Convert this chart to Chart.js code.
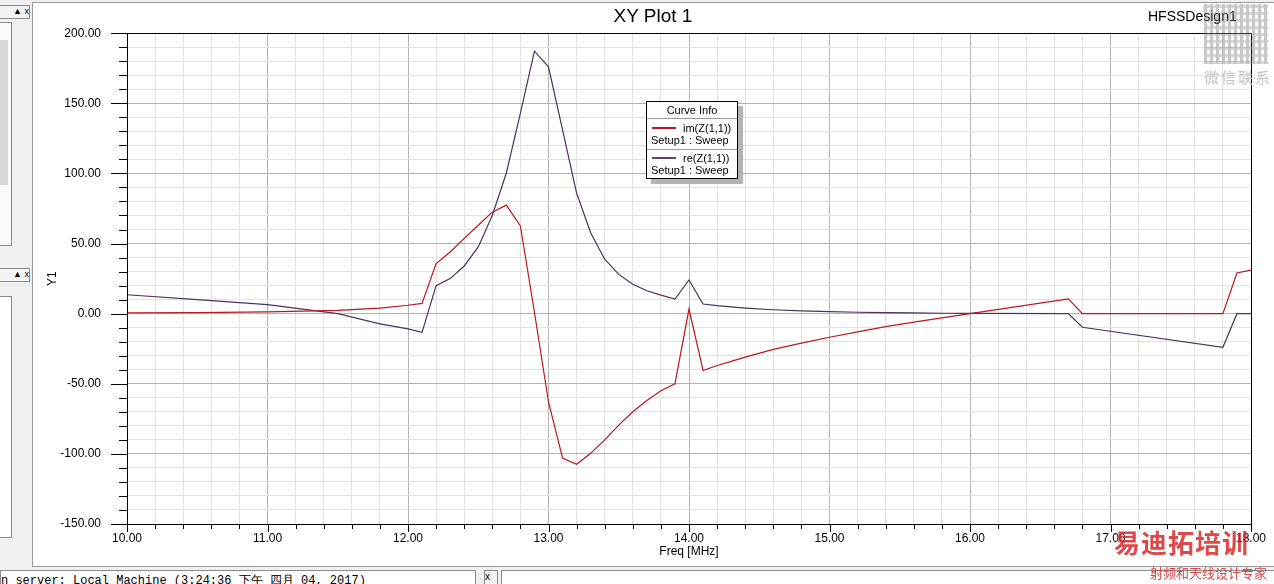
<!DOCTYPE html>
<html>
<head>
<meta charset="utf-8">
<script src="https://cdn.jsdelivr.net/npm/chart.js@4.4.0/dist/chart.umd.min.js"></script>
<style>
  body { margin: 0; width: 1274px; height: 584px; overflow: hidden; position: relative;
         background: #f0f0f0; font-family: Arial, "Liberation Sans", sans-serif; }
  .abs { position: absolute; }
  #win { left: 32px; top: 2px; width: 1242px; height: 563px; background: #fff;
         border-left: 1px solid #9a9a9a; border-top: 1px solid #9a9a9a; border-bottom: 1px solid #9a9a9a; }
  #chart { position: absolute; left: 0; top: 0; }
  #title { left: 553px; top: 5px; width: 200px; text-align: center; font-size: 19px; color: #000; }
  #design { left: 1148px; top: 8px; font-size: 14px; color: #000; }
  .legend { left: 646px; top: 101px; width: 90px; height: 76px; background: #fff;
            border: 1px solid #000; box-shadow: 5px 5px 0 #b4b4b4; font-size: 11px; }
  .legend div { position: absolute; white-space: nowrap; }
  .sep { left: 0; width: 90px; height: 0; border-top: 1px solid #9a9a9a; }
  .swatch { height: 2px; width: 24px; left: 5px; }
  .panel { border: 1px solid #8a8a8a; background: #fafafa; }
  .status { left: 0; top: 570px; width: 474px; height: 20px; background: #fff; border: 1px solid #8a8a8a;
            font: 12px "Liberation Mono", "DejaVu Sans Mono", monospace; line-height: 20px; white-space: nowrap; overflow: hidden; }
  .wm1 { left: 1114px; top: 523px; font-size: 26px; font-weight: bold; color: rgba(215,40,40,0.85);
         font-family: "Noto Sans CJK SC", sans-serif; letter-spacing: 1px; }
  .wm2 { left: 1150px; top: 563px; font-size: 13px; color: rgba(215,40,40,0.85); font-family: "Noto Sans CJK SC", sans-serif; }
  .wm3 { left: 1204px; top: 66px; font-size: 15px; color: #c4c4c4; font-family: "Noto Sans CJK SC", sans-serif; letter-spacing: 2px; }
  .qr { left: 1204px; top: 4px; width: 64px; height: 60px; opacity: 0.4;
        background: repeating-linear-gradient(90deg, #777 0 3px, transparent 3px 6px),
                    repeating-linear-gradient(0deg, #999 0 3px, transparent 3px 7px); }
</style>
</head>
<body>
<div id="win" class="abs"></div>

<!-- left docked panels -->
<div class="abs panel" style="left:-2px;top:5px;width:30px;height:12px;background:#f4f4f4;font-size:9px;text-align:right">&#9650; x</div>
<div class="abs panel" style="left:-2px;top:22px;width:12px;height:222px;"></div>
<div class="abs" style="left:0;top:40px;width:8px;height:145px;background:#d8d8d8"></div>
<div class="abs panel" style="left:-2px;top:268px;width:30px;height:12px;background:#f4f4f4;font-size:9px;text-align:right">&#9650; x</div>
<div class="abs panel" style="left:-2px;top:296px;width:12px;height:240px;background:#fff"></div>

<canvas id="chart" width="1274" height="584"></canvas>

<div id="title" class="abs">XY Plot 1</div>
<div id="design" class="abs">HFSSDesign1</div>
<div class="abs qr"></div>
<div class="abs wm3">微信联系</div>

<div class="abs legend">
  <div style="left:0;top:1px;width:90px;text-align:center;line-height:14px">Curve Info</div>
  <div class="sep" style="top:16px"></div>
  <div class="swatch" style="top:25px;background:rgb(185,22,30)"></div>
  <div style="left:36px;top:19px;line-height:14px">im(Z(1,1))</div>
  <div style="left:4px;top:31px;line-height:14px">Setup1 : Sweep</div>
  <div class="sep" style="top:47px"></div>
  <div class="swatch" style="top:55px;background:rgb(95,70,95)"></div>
  <div style="left:36px;top:49px;line-height:14px">re(Z(1,1))</div>
  <div style="left:4px;top:61px;line-height:14px">Setup1 : Sweep</div>
</div>

<div class="abs status">n server: Local Machine  (3:24:36 下午  四月 04, 2017)</div>
<div class="abs panel" style="left:484px;top:570px;width:12px;height:20px;background:#f4f4f4;font-size:10px">x</div>
<div class="abs" style="left:501px;top:570px;width:773px;height:20px;background:#fff;border:1px solid #8a8a8a"></div>

<div class="abs wm1">易迪拓培训</div>
<div class="abs wm2">射频和天线设计专家</div>

<script>
// frequency points (MHz) shared by both traces
const freq = [10.0, 10.5, 11.0, 11.5, 11.8, 12.0, 12.1, 12.2, 12.3, 12.4, 12.5, 12.6, 12.7, 12.8, 12.9,
              13.0, 13.1, 13.2, 13.3, 13.4, 13.5, 13.6, 13.7, 13.8, 13.9, 14.0, 14.1, 14.2, 14.3, 14.4,
              14.6, 14.8, 15.0, 15.2, 15.4, 15.6, 15.8, 16.0, 16.7, 16.8, 17.8, 17.9, 18.0];
const imZ = [0.5, 0.7, 1.2, 2.3, 4, 6, 7.3, 35.7, 44, 53.7, 63, 72.4, 77.4, 62.5, 1,
             -63, -103, -107.4, -99.6, -90, -79.5, -70, -62, -55, -50, 3.3, -40.5, -37, -34, -31,
             -25.5, -21, -16.8, -13, -9.3, -6, -3, 0, 10.6, 0, 0, 29, 31];
const reZ = [13.5, 10, 6.4, 0, -7.3, -10.9, -13.3, 20, 25, 34, 47.6, 70, 100.3, 143, 187.2,
             176, 131, 86, 57.7, 38.8, 28, 21, 16.3, 13.2, 10.4, 24, 6.9, 5.7, 4.8, 4,
             2.8, 2, 1.4, 1, 0.7, 0.5, 0.3, 0.2, 0, -9.7, -24, 0, 0];

const xMin = 10, xMax = 18, xStep = 0.2;
const yMin = -150, yMax = 200, yStep = 10;
const yMajor = 50;

const isInt = v => Math.abs(v - Math.round(v)) < 1e-6;
const isYMajor = v => Math.abs(v % yMajor) < 1e-6;

const MAJOR_GRID = '#b2b2b2', MINOR_GRID = '#e2e2e2';

// tick marks outside the plot + black frame
const frameTicks = {
  id: 'frameTicks',
  afterDraw(chart) {
    const { ctx, chartArea: a, scales: { x, y } } = chart;
    ctx.save();
    ctx.strokeStyle = '#000';
    ctx.lineWidth = 1;
    ctx.beginPath();
    y.ticks.forEach(t => {
      const py = Math.round(y.getPixelForValue(t.value)) + 0.5;
      const len = isYMajor(t.value) ? 16 : 8;
      ctx.moveTo(a.left - len, py);
      ctx.lineTo(a.left, py);
    });
    x.ticks.forEach(t => {
      const px = Math.round(x.getPixelForValue(t.value)) + 0.5;
      const len = isInt(t.value) ? 8 : 5;
      ctx.moveTo(px, a.bottom);
      ctx.lineTo(px, a.bottom + len);
    });
    ctx.stroke();
    ctx.strokeRect(Math.round(a.left) + 0.5, Math.round(a.top) + 0.5,
                   Math.round(a.right - a.left), Math.round(a.bottom - a.top));
    ctx.restore();
  }
};

new Chart(document.getElementById('chart'), {
  type: 'line',
  data: {
    datasets: [
      { label: 'im(Z(1,1))', data: freq.map((f, i) => ({ x: f, y: imZ[i] })),
        borderColor: 'rgb(190,22,32)', borderWidth: 1.2, pointRadius: 0, tension: 0 },
      { label: 're(Z(1,1))', data: freq.map((f, i) => ({ x: f, y: reZ[i] })),
        borderColor: 'rgb(72,52,96)', borderWidth: 1.2, pointRadius: 0, tension: 0 }
    ]
  },
  options: {
    responsive: false,
    animation: false,
    layout: { padding: { left: 32, top: 31, right: 23, bottom: 19 } },
    plugins: { legend: { display: false }, tooltip: { enabled: false } },
    scales: {
      x: {
        type: 'linear', min: xMin, max: xMax,
        afterFit: s => { s.height = 41; },
        border: { color: '#000', width: 1 },
        grid: { drawTicks: false, color: c => isInt(c.tick.value) ? MAJOR_GRID : MINOR_GRID },
        ticks: {
          stepSize: xStep, autoSkip: false, maxTicksLimit: 100, maxRotation: 0, padding: 7,
          color: '#000', font: { family: 'Arial', size: 12 },
          callback: v => isInt(v) ? v.toFixed(2) : ''
        },
        title: { display: true, text: 'Freq [MHz]', color: '#000',
                 font: { family: 'Arial', size: 12 }, padding: { top: 0, bottom: 6 } }
      },
      y: {
        min: yMin, max: yMax,
        afterFit: s => { s.width = 95; },
        border: { color: '#000', width: 1 },
        grid: { drawTicks: false, color: c => isYMajor(c.tick.value) ? MAJOR_GRID : MINOR_GRID },
        ticks: {
          stepSize: yStep, autoSkip: false, maxTicksLimit: 100, padding: 26,
          color: '#000', font: { family: 'Arial', size: 12 },
          callback: v => isYMajor(v) ? v.toFixed(2) : ''
        },
        title: { display: true, text: 'Y1', color: '#000',
                 font: { family: 'Arial', size: 12 }, padding: { top: 13, bottom: 0 } }
      }
    }
  },
  plugins: [frameTicks]
});
</script>
</body>
</html>
